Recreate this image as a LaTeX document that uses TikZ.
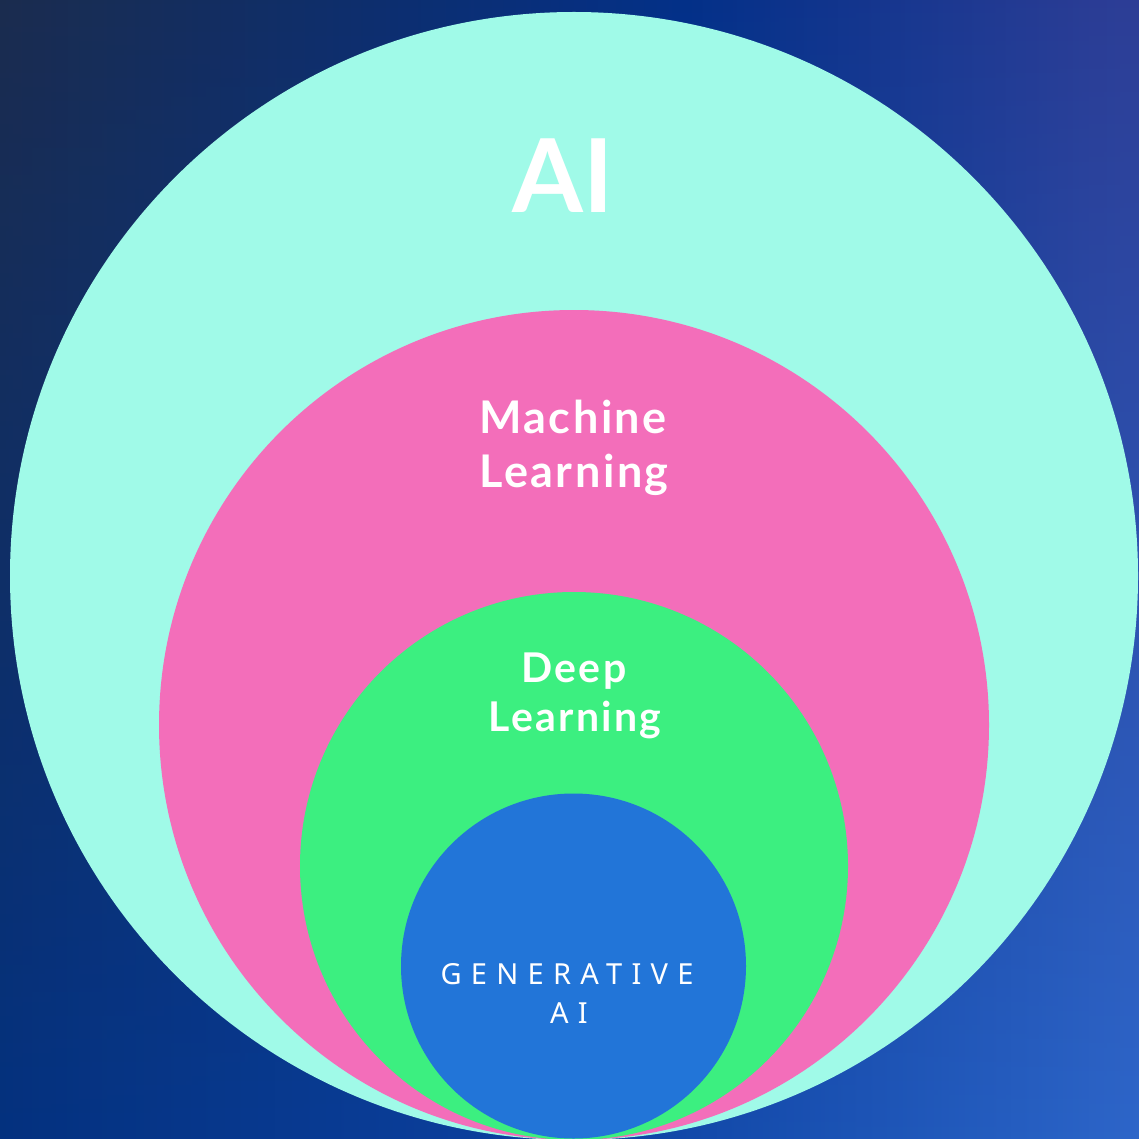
\documentclass[tikz,border=0pt]{standalone}
\usepackage{fontspec}
\setmainfont{Noto Sans}
\newfontfamily\headfont{Lato}[LetterSpace=5.5]
\newfontfamily\bigfont{Lato}
\newfontfamily\trackfont{Noto Sans}[LetterSpace=32]
\usetikzlibrary{shadings,fadings}

\definecolor{aimint}{HTML}{A0FAE8}
\definecolor{mlpink}{HTML}{F36EBA}
\definecolor{dlgreen}{HTML}{3CEF80}
\definecolor{gablue}{HTML}{2275D8}

\definecolor{bgslate}{RGB}{28,44,76}
\definecolor{bgnavy}{RGB}{3,48,136}
\definecolor{bgviolet}{RGB}{48,62,150}
\definecolor{bgdeep}{RGB}{3,49,127}
\definecolor{bgmid}{RGB}{12,66,162}
\definecolor{bgbright}{RGB}{46,104,204}

% left-to-right colour runs for the upper and lower edges of the canvas
\pgfdeclarehorizontalshading{upperrun}{100bp}{color(0bp)=(bgslate); color(25bp)=(bgslate);
  color(55bp)=(bgnavy); color(75bp)=(bgviolet); color(100bp)=(bgviolet)}
\pgfdeclarehorizontalshading{lowerrun}{100bp}{color(0bp)=(bgdeep); color(25bp)=(bgdeep);
  color(50bp)=(bgmid); color(75bp)=(bgbright); color(100bp)=(bgbright)}
\tikzfading[name=fadedown, top color=transparent!0, bottom color=transparent!100]

\tikzset{
  ringlabel/.style={text=white, anchor=base, inner sep=0pt},
  gentext/.style={text=white, anchor=base, inner sep=0pt, font=\trackfont\fontsize{29}{34}\selectfont},
}

\begin{document}
\begin{tikzpicture}[x=1pt, y=-1pt]
  % canvas: two horizontal colour runs blended from top to bottom
  \useasboundingbox (0,0) rectangle (1138,1139);
  \shade[shading=lowerrun] (-20,-20) rectangle (1158,1159);
  \shade[shading=upperrun, path fading=fadedown] (-20,-20) rectangle (1158,1159);

  % nested circles, all touching at the bottom
  \fill[aimint]  (574,576)   circle[radius=564pt];
  \fill[mlpink]  (574,725)   circle[radius=415pt];
  \fill[dlgreen] (574,866)   circle[radius=274pt];
  \fill[gablue]  (573.5,966) circle[radius=172.5pt];

  % labels
  \node[ringlabel, font=\bigfont\bfseries\fontsize{102}{110}\selectfont] (ai) at (563,213) {AI};
  \node[ringlabel, font=\headfont\bfseries\fontsize{45}{52}\selectfont] (ml1) at (573,433) {Machine};
  \node[ringlabel, font=\headfont\bfseries\fontsize{45}{52}\selectfont] (ml2) at (574,487) {Learning};
  \node[ringlabel, font=\headfont\bfseries\fontsize{41}{46}\selectfont] (dl1) at (574,682) {Deep};
  \node[ringlabel, font=\headfont\bfseries\fontsize{41}{46}\selectfont] (dl2) at (575,731) {Learning};
  \node[gentext] (ga1) at (567,984) {GENERATIVE};
  \node[gentext] (ga2) at (569,1023) {AI};
\end{tikzpicture}
\end{document}
